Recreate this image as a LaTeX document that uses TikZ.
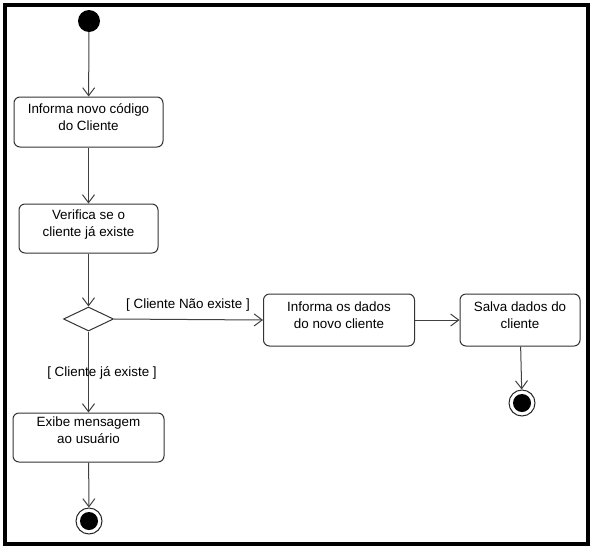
\documentclass[tikz,border=0pt]{standalone}
\usepackage{fontspec}
\setmainfont{Liberation Sans}
\usetikzlibrary{arrows.meta,shapes.geometric}
\begin{document}
\begin{tikzpicture}[x=1pt,y=-1pt,
  act/.style={draw=black!80, line width=1pt, rounded corners=6pt, fill=white, inner sep=0pt},
  txt/.style={align=center, font=\fontsize{13.4}{17}\selectfont, inner sep=0pt},
  flow/.style={draw=black!75, line width=1pt, -{Straight Barb[length=8pt,width=12pt,line width=1pt]}},
  guard/.style={font=\fontsize{13.4}{15}\selectfont, inner sep=0pt},
  endring/.style={circle, draw=black!85, line width=1pt, fill=white, minimum size=26pt, inner sep=0pt},
  enddot/.style={circle, fill=black, minimum size=18pt, inner sep=0pt}]
\useasboundingbox (0,0) rectangle (596,552);
\draw[line width=4.5pt] (5,5) rectangle (588,544);
% initial
\node[circle, fill=black, minimum size=22pt, inner sep=0pt] (start) at (89,21) {};
% activities
\node[act, minimum width=149pt, minimum height=50pt] (a1) at (88.5,122) {};
\node[txt] at ([yshift=5pt]a1.center) {Informa novo código\\do Cliente};
\node[act, minimum width=139pt, minimum height=49pt] (a2) at (88.5,228.5) {};
\node[txt] at ([yshift=4pt]a2.center) {Verifica se o\\cliente já existe};
\node[diamond, draw=black!80, line width=1pt, fill=white, minimum width=50pt, minimum height=24pt, inner sep=0pt] (d) at (88.5,319) {};
\node[act, minimum width=151pt, minimum height=52pt] (a3) at (339,320) {};
\node[txt] at ([yshift=5pt]a3.center) {Informa os dados\\do novo cliente};
\node[act, minimum width=120pt, minimum height=52pt] (a4) at (520,320) {};
\node[txt] at ([yshift=5pt]a4.center) {Salva dados do\\cliente};
\node[act, minimum width=151pt, minimum height=49pt] (a5) at (88.5,437.5) {};
\node[txt] at ([yshift=7pt]a5.center) {Exibe mensagem\\ao usuário};
% finals
\node[endring] (f1) at (89,521) {};
\node[enddot] at (f1.center) {};
\node[endring] (f2) at (522,403) {};
\node[enddot] at (f2.center) {};
% flows
\draw[flow] (start) -- (a1);
\draw[flow] (a1) -- (a2);
\draw[flow] (a2) -- (d.north);
\draw[flow] (d.east) -- (a3.west);
\draw[flow] (d.south) -- (a5.north);
\draw[flow] (a5) -- (f1);
\draw[flow] (a3) -- (a4);
\draw[flow] (a4) -- (f2);
% guards
\node[guard] at (188,305) {[ Cliente Não existe ]};
\node[guard] at (102,373) {[ Cliente já existe ]};
\end{tikzpicture}
\end{document}
